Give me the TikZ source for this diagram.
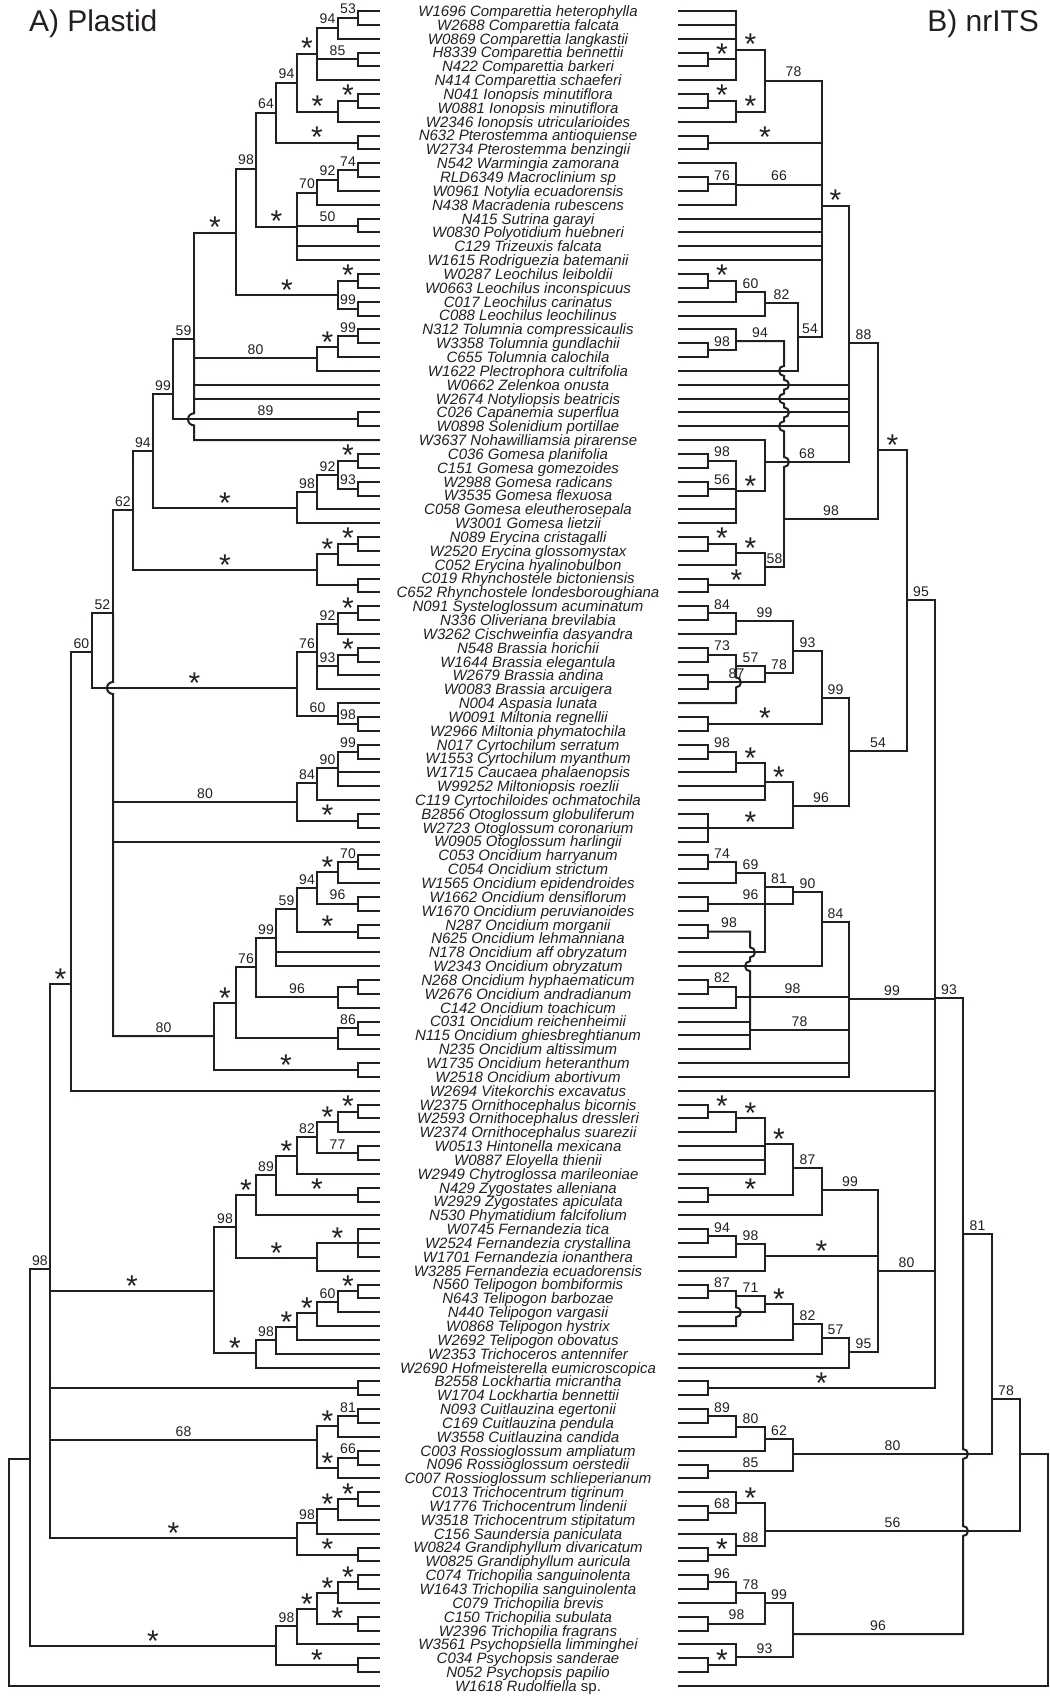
\documentclass[tikz,border=0pt]{standalone}
\usepackage{fontspec}
\setmainfont{Liberation Sans}
\usepackage{tikz}
\usetikzlibrary{calc}
\definecolor{treeink}{RGB}{35,31,32}
\newcommand\ry[1]{11+(#1-1)*13.843}
\newcommand\bsstar{\raisebox{-9pt}{\fontsize{30}{30}\selectfont *}}

\begin{document}
\begin{tikzpicture}[x=1pt, y=-1pt, line width=2pt, color=treeink,
  bs/.style={pos=.75, anchor=base, yshift=4pt, inner sep=0pt, font=\fontsize{14}{14}\selectfont},
  tax/.style={anchor=base, inner sep=0pt, font=\fontsize{15}{15}\selectfont\itshape},
  ttl/.style={inner sep=0pt, font=\fontsize{30}{30}\selectfont}]
\useasboundingbox (0,0) rectangle (1049,1696);

\node[ttl, anchor=base west] (titleA) at (28,32) {A) Plastid};
\node[ttl, anchor=base east] (titleB) at (1040,32) {B) nrITS};

\foreach \lab [count=\i] in {W1696 Comparettia heterophylla, W2688 Comparettia falcata,
  W0869 Comparettia langkastii, H8339 Comparettia bennettii, N422 Comparettia barkeri,
  N414 Comparettia schaeferi, N041 Ionopsis minutiflora, W0881 Ionopsis minutiflora,
  W2346 Ionopsis utricularioides, N632 Pterostemma antioquiense, W2734 Pterostemma benzingii,
  N542 Warmingia zamorana, RLD6349 Macroclinium sp, W0961 Notylia ecuadorensis,
  N438 Macradenia rubescens, N415 Sutrina garayi, W0830 Polyotidium huebneri,
  C129 Trizeuxis falcata, W1615 Rodriguezia batemanii, W0287 Leochilus leiboldii,
  W0663 Leochilus inconspicuus, C017 Leochilus carinatus, C088 Leochilus leochilinus,
  N312 Tolumnia compressicaulis, W3358 Tolumnia gundlachii, C655 Tolumnia calochila,
  W1622 Plectrophora cultrifolia, W0662 Zelenkoa onusta, W2674 Notyliopsis beatricis,
  C026 Capanemia superflua, W0898 Solenidium portillae, W3637 Nohawilliamsia pirarense,
  C036 Gomesa planifolia, C151 Gomesa gomezoides, W2988 Gomesa radicans,
  W3535 Gomesa flexuosa, C058 Gomesa eleutherosepala, W3001 Gomesa lietzii,
  N089 Erycina cristagalli, W2520 Erycina glossomystax, C052 Erycina hyalinobulbon,
  C019 Rhynchostele bictoniensis, C652 Rhynchostele londesboroughiana,
  N091 Systeloglossum acuminatum, N336 Oliveriana brevilabia, W3262 Cischweinfia dasyandra,
  N548 Brassia horichii, W1644 Brassia elegantula, W2679 Brassia andina,
  W0083 Brassia arcuigera, N004 Aspasia lunata, W0091 Miltonia regnellii,
  W2966 Miltonia phymatochila, N017 Cyrtochilum serratum, W1553 Cyrtochilum myanthum,
  W1715 Caucaea phalaenopsis, W99252 Miltoniopsis roezlii, C119 Cyrtochiloides ochmatochila,
  B2856 Otoglossum globuliferum, W2723 Otoglossum coronarium, W0905 Otoglossum harlingii,
  C053 Oncidium harryanum, C054 Oncidium strictum, W1565 Oncidium epidendroides,
  W1662 Oncidium densiflorum, W1670 Oncidium peruvianoides, N287 Oncidium morganii,
  N625 Oncidium lehmanniana, N178 Oncidium aff obryzatum, W2343 Oncidium obryzatum,
  N268 Oncidium hyphaematicum, W2676 Oncidium andradianum, C142 Oncidium toachicum,
  C031 Oncidium reichenheimii, N115 Oncidium ghiesbreghtianum, N235 Oncidium altissimum,
  W1735 Oncidium heteranthum, W2518 Oncidium abortivum, W2694 Vitekorchis excavatus,
  W2375 Ornithocephalus bicornis, W2593 Ornithocephalus dressleri,
  W2374 Ornithocephalus suarezii, W0513 Hintonella mexicana, W0887 Eloyella thienii,
  W2949 Chytroglossa marileoniae, N429 Zygostates alleniana, W2929 Zygostates apiculata,
  N530 Phymatidium falcifolium, W0745 Fernandezia tica, W2524 Fernandezia crystallina,
  W1701 Fernandezia ionanthera, W3285 Fernandezia ecuadorensis, N560 Telipogon bombiformis,
  N643 Telipogon barbozae, N440 Telipogon vargasii, W0868 Telipogon hystrix,
  W2692 Telipogon obovatus, W2353 Trichoceros antennifer, W2690 Hofmeisterella eumicroscopica,
  B2558 Lockhartia micrantha, W1704 Lockhartia bennettii, N093 Cuitlauzina egertonii,
  C169 Cuitlauzina pendula, W3558 Cuitlauzina candida, C003 Rossioglossum ampliatum,
  N096 Rossioglossum oerstedii, C007 Rossioglossum schlieperianum, C013 Trichocentrum tigrinum,
  W1776 Trichocentrum lindenii, W3518 Trichocentrum stipitatum, C156 Saundersia paniculata,
  W0824 Grandiphyllum divaricatum, W0825 Grandiphyllum auricula,
  C074 Trichopilia sanguinolenta, W1643 Trichopilia sanguinolenta, C079 Trichopilia brevis,
  C150 Trichopilia subulata, W2396 Trichopilia fragrans, W3561 Psychopsiella limminghei,
  C034 Psychopsis sanderae, N052 Psychopsis papilio, W1618 Rudolfiella \textup{sp.}}{
  \pgfmathsetmacro\yy{\ry{\i}}
  \coordinate (L\i) at (380,\yy);
  \coordinate (R\i) at (678,\yy);
  \node[tax] (t\i) at (528,{\yy+5.4}) {\lab};
}

\foreach \n/\x/\y in {pA2/338/28, pA3/317/54, pA4/338/112, pA5/297/83, pA6/276/113,
  pB1/338/180, pB2/317/193, pB3/297/227, pB4/256/169, pC1/338/295, pC2/236/233,
  pK1/338/347, pK2/317/358, pC3/194/339, pD1/173/394, pE3/338/475, pE2/317/492,
  pE1/297/508, pD2/153/451, pG2/338/554, pG1/317/570, pF/133/510, pU4/338/624,
  pU5/338/666, pU2/317/652, pU3/338/716, pU1/297/688, pK4/338/768, pK3/317/783,
  pK/297/802, pO1/338/872, pO2/317/888, pO3/297/909, pO4/276/938, pO5/338/997,
  pO6/256/967, pO7/338/1038, pO8/236/1003, pL/214/1036, pH/113/613, pJ/92/652,
  pM/71/984, pP1/338/1122, pP2/317/1137, pP3/297/1156, pP4/276/1175, pP5/256/1195,
  pP6/317/1258, pP7/236/1227, pQ1/338/1302, pQ2/317/1313, pQ3/297/1327, pQ4/276/1340,
  pQ5/256/1353, pO/214/1291, pP8/338/1426, pP9/338/1468, pP10/317/1440, pT3/338/1509,
  pT2/317/1523, pT1/297/1538, pN/50/1269, pS3/338/1593, pS2/317/1609, pS1/297/1626,
  pS/276/1646, pR/30/1459, proot/9/1570}
  \coordinate (\n) at (\x,\y);

\foreach \n/\x/\y in {nV1/736/50, nV2/736/112, nV3/765/81, nV4/736/185, nW3/736/292,
  nW2/765/303, nW1/798/337, nV5/822/206, nX1/736/341, nZ1/736/491, nZ2/765/462,
  nAA1/849/343, nY2/736/553, nY1/765/567, nX2/784/519, nAB/878/450, nAH/736/621,
  nAJ/736/666, nAI/765/673, nAG/793/651, nAE/822/698, nAK/736/763, nAL/765/782,
  nAF/793/806, nAD/849/751, nAC/907/600, nBA1/736/873, nBA2/765/887, nBF/793/892,
  nBE/822/922, nBC/736/997, nBB/750/1030, nBD/849/999, nCB1/736/1118, nCB2/765/1144,
  nCB3/793/1168, nCB4/822/1190, nCC1/736/1244, nCC2/765/1256, nCD1/736/1296,
  nCD2/765/1304, nCD3/793/1324, nCD4/822/1338, nCD5/849/1352, nCE/878/1271,
  nCA/935/998, nDB1/736/1427, nDB2/765/1439, nDB3/793/1454, nDC1/736/1503,
  nDC2/736/1546, nDC3/765/1531, nDD1/736/1593, nDD2/765/1603, nDD3/736/1657,
  nDD4/793/1634, nDA/963/1234, nDE/992/1399, nDF/1020/1454, nroot/1048/1570}
  \coordinate (\n) at (\x,\y);

\foreach \r in {1,4,7,10,12,16,20,22,24,30,33,35,39,42,44,47,52,54,59,62,65,67,71,74,
  77,80,83,86,93,100,102,105,108,112,114,117,120} {
  \coordinate (pc\r) at (358,{\ry{\r+0.5}});
  \pgfmathtruncatemacro\rr{\r+1}
  \draw (L\r) -| (pc\r) |- (L\rr);
}
\coordinate (pc89) at (358,{\ry{90}});
\draw (L89) -| (pc89) |- (L91);
\draw (pc89) -- (L90);

\foreach \r in {4,7,10,13,20,25,33,35,39,42,44,47,49,52,54,62,65,67,71,80,86,89,93,
  100,102,106,109,112,114,117,120} {
  \coordinate (nc\r) at (708,{\ry{\r+0.5}});
  \pgfmathtruncatemacro\rr{\r+1}
  \draw (R\r) -| (nc\r) |- (R\rr);
}
\coordinate (nc59) at (708,{\ry{60}});
\draw (R59) -| (nc59) |- (R61);
\draw (nc59) -- (R60);

\foreach \c/\s in {pc1/53, L3/{}} \draw (pA2) |- node[bs]{\s} (\c);
\foreach \c/\s in {pA2/94, pc4/85, L6/{}} \draw (pA3) |- node[bs]{\s} (\c);
\foreach \c/\s in {pc7/\bsstar, L9/{}} \draw (pA4) |- node[bs]{\s} (\c);
\foreach \c/\s in {pA3/\bsstar, pA4/\bsstar} \draw (pA5) |- node[bs]{\s} (\c);
\foreach \c/\s in {pA5/94, pc10/\bsstar} \draw (pA6) |- node[bs]{\s} (\c);
\foreach \c/\s in {pc12/74, L14/{}} \draw (pB1) |- node[bs]{\s} (\c);
\foreach \c/\s in {pB1/92, L15/{}} \draw (pB2) |- node[bs]{\s} (\c);
\foreach \c/\s in {pB2/70, pc16/50, L18/{}, L19/{}} \draw (pB3) |- node[bs]{\s} (\c);
\foreach \c/\s in {pA6/64, pB3/\bsstar} \draw (pB4) |- node[bs]{\s} (\c);
\foreach \c/\s in {pc20/\bsstar, pc22/99} \draw (pC1) |- node[bs]{\s} (\c);
\foreach \c/\s in {pB4/98, pC1/\bsstar} \draw (pC2) |- node[bs]{\s} (\c);
\foreach \c/\s in {pc24/99, L26/{}} \draw (pK1) |- node[bs]{\s} (\c);
\foreach \c/\s in {pK1/\bsstar, L27/{}} \draw (pK2) |- node[bs]{\s} (\c);
\foreach \c/\s in {pC2/\bsstar, pK2/80, L28/{}, L29/{}} \draw (pC3) |- node[bs]{\s} (\c);
\draw (pC3) -- ($(pC3|-pc30)+(0,-6)$) arc[start angle=90, end angle=270, radius=6pt]
  -- (pC3|-L32) -- (L32);
\foreach \c/\s in {pC3/59, pc30/89} \draw (pD1) |- node[bs]{\s} (\c);
\foreach \c/\s in {pc33/\bsstar, pc35/93} \draw (pE3) |- node[bs]{\s} (\c);
\foreach \c/\s in {pE3/92, L37/{}} \draw (pE2) |- node[bs]{\s} (\c);
\foreach \c/\s in {pE2/98, L38/{}} \draw (pE1) |- node[bs]{\s} (\c);
\foreach \c/\s in {pD1/99, pE1/\bsstar} \draw (pD2) |- node[bs]{\s} (\c);
\foreach \c/\s in {pc39/\bsstar, L41/{}} \draw (pG2) |- node[bs]{\s} (\c);
\foreach \c/\s in {pG2/\bsstar, pc42/{}} \draw (pG1) |- node[bs]{\s} (\c);
\foreach \c/\s in {pD2/94, pG1/\bsstar} \draw (pF) |- node[bs]{\s} (\c);
\foreach \c/\s in {pc44/\bsstar, L46/{}} \draw (pU4) |- node[bs]{\s} (\c);
\foreach \c/\s in {pc47/\bsstar, L49/{}} \draw (pU5) |- node[bs]{\s} (\c);
\foreach \c/\s in {pU4/92, pU5/93, L50/{}} \draw (pU2) |- node[bs]{\s} (\c);
\foreach \c/\s in {L51/{}, pc52/98} \draw (pU3) |- node[bs]{\s} (\c);
\foreach \c/\s in {pU2/76, pU3/60} \draw (pU1) |- node[bs]{\s} (\c);
\foreach \c/\s in {pc54/99, L56/{}, L57/{}} \draw (pK4) |- node[bs]{\s} (\c);
\foreach \c/\s in {pK4/90, L58/{}} \draw (pK3) |- node[bs]{\s} (\c);
\foreach \c/\s in {pK3/84, pc59/\bsstar} \draw (pK) |- node[bs]{\s} (\c);
\foreach \c/\s in {pc62/70, L64/{}} \draw (pO1) |- node[bs]{\s} (\c);
\foreach \c/\s in {pO1/\bsstar, pc65/96} \draw (pO2) |- node[bs]{\s} (\c);
\foreach \c/\s in {pO2/94, pc67/\bsstar} \draw (pO3) |- node[bs]{\s} (\c);
\foreach \c/\s in {pO3/59, L69/{}, L70/{}} \draw (pO4) |- node[bs]{\s} (\c);
\foreach \c/\s in {pc71/{}, L73/{}} \draw (pO5) |- node[bs]{\s} (\c);
\foreach \c/\s in {pO4/99, pO5/96} \draw (pO6) |- node[bs]{\s} (\c);
\foreach \c/\s in {pc74/86, L76/{}} \draw (pO7) |- node[bs]{\s} (\c);
\foreach \c/\s in {pO6/76, pO7/{}} \draw (pO8) |- node[bs]{\s} (\c);
\foreach \c/\s in {pO8/\bsstar, pc77/\bsstar} \draw (pL) |- node[bs]{\s} (\c);
\draw (pH) |- node[bs]{62} (pF);
\draw (pH|-pK) -- node[bs, pos=.5]{80} (pK);
\draw (pH|-L61) -- (L61);
\draw (pH) -- ($(pH|-pU1)+(0,-6)$) arc[start angle=90, end angle=270, radius=6pt]
  -- (pH|-pL) -- node[bs, pos=.5]{80} (pL);
\foreach \c/\s in {pH/52, pU1/\bsstar} \draw (pJ) |- node[bs]{\s} (\c);
\foreach \c/\s in {pJ/60, L79/{}} \draw (pM) |- node[bs]{\s} (\c);
\foreach \c/\s in {pc80/\bsstar, L82/{}} \draw (pP1) |- node[bs]{\s} (\c);
\foreach \c/\s in {pP1/\bsstar, pc83/77} \draw (pP2) |- node[bs]{\s} (\c);
\foreach \c/\s in {pP2/82, L85/{}} \draw (pP3) |- node[bs]{\s} (\c);
\foreach \c/\s in {pP3/\bsstar, pc86/\bsstar} \draw (pP4) |- node[bs]{\s} (\c);
\foreach \c/\s in {pP4/89, L88/{}} \draw (pP5) |- node[bs]{\s} (\c);
\foreach \c/\s in {pc89/\bsstar, L92/{}} \draw (pP6) |- node[bs]{\s} (\c);
\foreach \c/\s in {pP5/\bsstar, pP6/\bsstar} \draw (pP7) |- node[bs]{\s} (\c);
\foreach \c/\s in {pc93/\bsstar, L95/{}} \draw (pQ1) |- node[bs]{\s} (\c);
\foreach \c/\s in {pQ1/60, L96/{}} \draw (pQ2) |- node[bs]{\s} (\c);
\foreach \c/\s in {pQ2/\bsstar, L97/{}} \draw (pQ3) |- node[bs]{\s} (\c);
\foreach \c/\s in {pQ3/\bsstar, L98/{}} \draw (pQ4) |- node[bs]{\s} (\c);
\foreach \c/\s in {pQ4/98, L99/{}} \draw (pQ5) |- node[bs]{\s} (\c);
\foreach \c/\s in {pP7/98, pQ5/\bsstar} \draw (pO) |- node[bs]{\s} (\c);
\foreach \c/\s in {pc102/81, L104/{}} \draw (pP8) |- node[bs]{\s} (\c);
\foreach \c/\s in {pc105/66, L107/{}} \draw (pP9) |- node[bs]{\s} (\c);
\foreach \c/\s in {pP8/\bsstar, pP9/\bsstar} \draw (pP10) |- node[bs]{\s} (\c);
\foreach \c/\s in {pc108/\bsstar, L110/{}} \draw (pT3) |- node[bs]{\s} (\c);
\foreach \c/\s in {pT3/\bsstar, L111/{}} \draw (pT2) |- node[bs]{\s} (\c);
\foreach \c/\s in {pT2/98, pc112/\bsstar} \draw (pT1) |- node[bs]{\s} (\c);
\foreach \c/\s in {pM/\bsstar, pO/\bsstar, pc100/{}, pP10/68, pT1/\bsstar} \draw (pN) |- node[bs]{\s} (\c);
\foreach \c/\s in {pc114/\bsstar, L116/{}} \draw (pS3) |- node[bs]{\s} (\c);
\foreach \c/\s in {pS3/\bsstar, pc117/\bsstar} \draw (pS2) |- node[bs]{\s} (\c);
\foreach \c/\s in {pS2/\bsstar, L119/{}} \draw (pS1) |- node[bs]{\s} (\c);
\foreach \c/\s in {pS1/98, pc120/\bsstar} \draw (pS) |- node[bs]{\s} (\c);
\foreach \c/\s in {pN/98, pS/\bsstar} \draw (pR) |- node[bs]{\s} (\c);
\foreach \c in {pR, L122} \draw (proot) |- (\c);

\foreach \c/\s in {R1/{}, R2/{}, R3/{}, nc4/\bsstar, R6/{}} \draw (nV1) |- node[bs]{\s} (\c);
\foreach \c/\s in {nc7/\bsstar, R9/{}} \draw (nV2) |- node[bs]{\s} (\c);
\foreach \c/\s in {nV1/\bsstar, nV2/\bsstar} \draw (nV3) |- node[bs]{\s} (\c);
\foreach \c/\s in {R12/{}, nc13/76, R15/{}} \draw (nV4) |- node[bs]{\s} (\c);
\foreach \c/\s in {nc20/\bsstar, R22/{}} \draw (nW3) |- node[bs]{\s} (\c);
\foreach \c/\s in {nW3/60, R23/{}} \draw (nW2) |- node[bs]{\s} (\c);
\foreach \c/\s in {nW2/82, R27/{}} \draw (nW1) |- node[bs]{\s} (\c);
\foreach \c/\s in {nV3/78, nc10/\bsstar, nV4/66, R16/{}, R17/{}, R18/{}, R19/{}, nW1/54}
  \draw (nV5) |- node[bs]{\s} (\c);
\foreach \c/\s in {R24/{}, nc25/98} \draw (nX1) |- node[bs]{\s} (\c);
\foreach \c/\s in {nc33/98, nc35/56, R37/{}, R38/{}} \draw (nZ1) |- node[bs]{\s} (\c);
\foreach \c/\s in {R32/{}, nZ1/\bsstar} \draw (nZ2) |- node[bs]{\s} (\c);
\foreach \c/\s in {nV5/\bsstar, R28/{}, R29/{}, R30/{}, R31/{}, nZ2/68}
  \draw (nAA1) |- node[bs]{\s} (\c);
\foreach \c/\s in {nc39/\bsstar, R41/{}} \draw (nY2) |- node[bs]{\s} (\c);
\foreach \c/\s in {nY2/\bsstar, nc42/\bsstar} \draw (nY1) |- node[bs]{\s} (\c);
\draw (nX2) |- node[bs]{58} (nY1);
\draw (nX2) -- ($(nX2|-nZ2)+(0,5)$) arc[start angle=-90, end angle=90, radius=5pt]
  -- ($(nX2|-R31)+(0,5)$) arc[start angle=270, end angle=90, radius=5pt]
  -- ($(nX2|-R30)+(0,5)$) arc[start angle=-90, end angle=90, radius=5pt]
  -- ($(nX2|-R29)+(0,5)$) arc[start angle=270, end angle=90, radius=5pt]
  -- ($(nX2|-R28)+(0,5)$) arc[start angle=-90, end angle=90, radius=5pt]
  -- ($(nX2|-R27)+(0,5)$) arc[start angle=270, end angle=90, radius=5pt]
  -- (nX2|-nX1) -- node[bs, pos=.5]{94} (nX1);
\foreach \c/\s in {nAA1/88, nX2/98} \draw (nAB) |- node[bs]{\s} (\c);
\foreach \c/\s in {nc44/84, R46/{}} \draw (nAH) |- node[bs]{\s} (\c);
\draw (nAJ) |- node[bs]{73} (nc47);
\draw (nAJ) -- ($(nAJ|-nc49)+(0,-5)$) arc[start angle=90, end angle=-90, radius=5pt]
  -- (nAJ|-R51) -- (R51);
\foreach \c/\s in {nAJ/57, nc49/87} \draw (nAI) |- node[bs]{\s} (\c);
\foreach \c/\s in {nAH/99, nAI/78} \draw (nAG) |- node[bs]{\s} (\c);
\foreach \c/\s in {nAG/93, nc52/\bsstar} \draw (nAE) |- node[bs]{\s} (\c);
\foreach \c/\s in {nc54/98, R56/{}} \draw (nAK) |- node[bs]{\s} (\c);
\foreach \c/\s in {nAK/\bsstar, R57/{}, R58/{}} \draw (nAL) |- node[bs]{\s} (\c);
\foreach \c/\s in {nAL/\bsstar, nc59/\bsstar} \draw (nAF) |- node[bs]{\s} (\c);
\foreach \c/\s in {nAE/99, nAF/96} \draw (nAD) |- node[bs]{\s} (\c);
\foreach \c/\s in {nAB/\bsstar, nAD/54} \draw (nAC) |- node[bs]{\s} (\c);
\foreach \c/\s in {nc62/74, R64/{}} \draw (nBA1) |- node[bs]{\s} (\c);
\foreach \c/\s in {nBA1/69, R69/{}} \draw (nBA2) |- node[bs]{\s} (\c);
\foreach \c/\s in {nBA2/81, nc65/96} \draw (nBF) |- node[bs]{\s} (\c);
\foreach \c/\s in {nBF/90, R70/{}} \draw (nBE) |- node[bs]{\s} (\c);
\foreach \c/\s in {nc71/82, R73/{}} \draw (nBC) |- node[bs]{\s} (\c);
\foreach \c in {R74, R75, R76} \draw (nBB) |- (\c);
\draw (nBB) -- ($(nBB|-R70)+(0,5)$) arc[start angle=270, end angle=90, radius=5pt]
  -- ($(nBB|-R69)+(0,5)$) arc[start angle=-90, end angle=90, radius=5pt]
  -- (nBB|-nc67) -- node[bs, pos=.5]{98} (nc67);
\foreach \c/\s in {nBE/84, nBC/98, nBB/78, R77/{}, R78/{}} \draw (nBD) |- node[bs]{\s} (\c);
\foreach \c/\s in {nc80/\bsstar, R82/{}} \draw (nCB1) |- node[bs]{\s} (\c);
\foreach \c/\s in {nCB1/\bsstar, R83/{}, R84/{}, R85/{}} \draw (nCB2) |- node[bs]{\s} (\c);
\foreach \c/\s in {nCB2/\bsstar, nc86/\bsstar} \draw (nCB3) |- node[bs]{\s} (\c);
\foreach \c/\s in {nCB3/87, R88/{}} \draw (nCB4) |- node[bs]{\s} (\c);
\foreach \c/\s in {nc89/94, R91/{}} \draw (nCC1) |- node[bs]{\s} (\c);
\foreach \c/\s in {nCC1/98, R92/{}} \draw (nCC2) |- node[bs]{\s} (\c);
\draw (nCD1) |- node[bs]{87} (nc93);
\draw (nCD1) -- ($(nCD1|-R95)+(0,-5)$) arc[start angle=90, end angle=-90, radius=5pt]
  -- (nCD1|-R96) -- (R96);
\foreach \c/\s in {nCD1/71, R95/{}} \draw (nCD2) |- node[bs]{\s} (\c);
\foreach \c/\s in {nCD2/\bsstar, R97/{}} \draw (nCD3) |- node[bs]{\s} (\c);
\foreach \c/\s in {nCD3/82, R98/{}} \draw (nCD4) |- node[bs]{\s} (\c);
\foreach \c/\s in {nCD4/57, R99/{}} \draw (nCD5) |- node[bs]{\s} (\c);
\foreach \c/\s in {nCB4/99, nCC2/\bsstar, nCD5/95} \draw (nCE) |- node[bs]{\s} (\c);
\foreach \c/\s in {nAC/95, nBD/99, R79/{}, nCE/80, nc100/\bsstar} \draw (nCA) |- node[bs]{\s} (\c);
\foreach \c/\s in {nc102/89, R104/{}} \draw (nDB1) |- node[bs]{\s} (\c);
\foreach \c/\s in {nDB1/80, R105/{}} \draw (nDB2) |- node[bs]{\s} (\c);
\foreach \c/\s in {nDB2/62, nc106/85} \draw (nDB3) |- node[bs]{\s} (\c);
\foreach \c/\s in {R108/{}, nc109/68} \draw (nDC1) |- node[bs]{\s} (\c);
\foreach \c/\s in {R111/{}, nc112/\bsstar} \draw (nDC2) |- node[bs]{\s} (\c);
\foreach \c/\s in {nDC1/\bsstar, nDC2/88} \draw (nDC3) |- node[bs]{\s} (\c);
\foreach \c/\s in {nc114/96, R116/{}} \draw (nDD1) |- node[bs]{\s} (\c);
\foreach \c/\s in {nDD1/78, nc117/98} \draw (nDD2) |- node[bs]{\s} (\c);
\foreach \c/\s in {R119/{}, nc120/\bsstar} \draw (nDD3) |- node[bs]{\s} (\c);
\foreach \c/\s in {nDD2/99, nDD3/93} \draw (nDD4) |- node[bs]{\s} (\c);
\draw (nDA) |- node[bs]{93} (nCA);
\draw (nDA) -- ($(nDA|-nDB3)+(0,-5)$) arc[start angle=90, end angle=-90, radius=5pt]
  -- ($(nDA|-nDC3)+(0,-5)$) arc[start angle=90, end angle=-90, radius=5pt]
  -- (nDA|-nDD4) -- node[bs, pos=.5]{96} (nDD4);
\foreach \c/\s in {nDA/81, nDB3/80} \draw (nDE) |- node[bs]{\s} (\c);
\foreach \c/\s in {nDE/78, nDC3/56} \draw (nDF) |- node[bs]{\s} (\c);
\foreach \c in {nDF, R122} \draw (nroot) |- (\c);
\end{tikzpicture}
\end{document}
